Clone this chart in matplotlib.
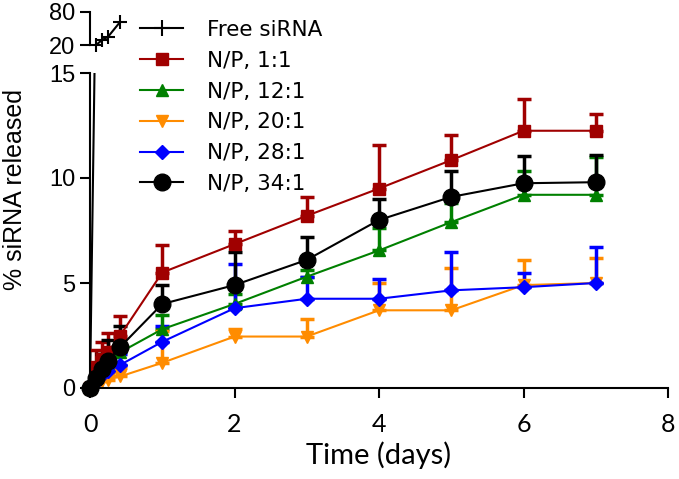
import numpy as np
import matplotlib
matplotlib.use("Agg")
import matplotlib.pyplot as plt

plt.rcParams["font.family"] = ["Liberation Sans", "DejaVu Sans"]

# time points (days)
t = [0, 0.083, 0.167, 0.25, 0.417, 1, 2, 3, 4, 5, 6, 7]

# free siRNA (upper panel, 20-80 %)
free_t = [0, 0.083, 0.167, 0.25, 0.417]
free_v = [0, 20, 29, 35, 62]

# N/P ratios: mean and upper error
np1 = [0, 1.0, 1.4, 1.7, 2.5, 5.5, 6.85, 8.2, 9.5, 10.85, 12.25, 12.25]
np1_err = [0, 0.8, 0.8, 0.9, 0.95, 1.3, 0.65, 0.9, 2.05, 1.2, 1.5, 0.8]
np12 = [0, 0.5, 0.9, 1.2, 1.7, 2.8, 4.0, 5.3, 6.55, 7.9, 9.2, 9.2]
np12_err = [0, 0.3, 0.4, 0.4, 0.4, 0.7, 0.5, 0.3, 1.05, 0.9, 1.15, 1.8]
np20 = [0, 0.2, 0.35, 0.4, 0.55, 1.2, 2.45, 2.45, 3.7, 3.7, 4.9, 5.0]
np20_err = [0, 0.2, 0.3, 0.3, 0.4, 1.5, 0.35, 0.85, 1.3, 2.0, 1.2, 1.2]
np28 = [0, 0.3, 0.6, 0.8, 1.1, 2.2, 3.8, 4.25, 4.25, 4.65, 4.8, 5.0]
np28_err = [0, 0.3, 0.4, 0.5, 0.5, 0.75, 2.1, 1.05, 0.95, 1.85, 0.7, 1.7]
np34 = [0, 0.5, 0.9, 1.3, 1.95, 4.0, 4.9, 6.1, 8.0, 9.1, 9.75, 9.8]
np34_err = [0, 0.5, 0.7, 1.0, 1.0, 0.9, 1.6, 1.1, 1.0, 1.25, 1.3, 1.3]

W, H = 679, 479
fig = plt.figure(figsize=(W / 100, H / 100), dpi=100)
ax = fig.add_axes([90 / W, 91 / H, 578 / W, 315 / H])
ax_top = fig.add_axes([90 / W, (H - 45) / H, 578 / W, 33 / H], sharex=ax)

# free siRNA
ax.plot(free_t, free_v, color="black", lw=1.5)
ax_top.plot(free_t[1:], free_v[1:], color="black", lw=1.5, marker="+",
            ms=10, mew=1.5, clip_on=False)
free_handle = plt.Line2D([], [], color="black", lw=1.5, marker="+", ms=12, mew=1.5)

series = [
    ("N/P, 1:1", np1, np1_err, "#A00000", "s", 8),
    ("N/P, 12:1", np12, np12_err, "#008000", "^", 8),
    ("N/P, 20:1", np20, np20_err, "#FF8C00", "v", 8),
    ("N/P, 28:1", np28, np28_err, "#0000FF", "D", 7),
    ("N/P, 34:1", np34, np34_err, "black", "o", 12),
]

handles = [free_handle]
labels = ["Free siRNA"]
for label, v, err, c, m, ms in series:
    ax.errorbar(t, v, yerr=[np.zeros(len(err)), err], color=c, lw=1.5,
                marker=m, ms=ms, elinewidth=2.5, capsize=5, capthick=2.5,
                clip_on=False)
    handles.append(plt.Line2D([], [], color=c, lw=1.5, marker=m, ms=ms))
    labels.append(label)

ax.set_xlim(0, 8)
ax.set_ylim(0, 15)
ax.set_xticks([0, 2, 4, 6, 8])
ax.set_yticks([0, 5, 10, 15])
ax.spines["top"].set_visible(False)
ax.spines["right"].set_visible(False)
for s in ax.spines.values():
    s.set_linewidth(1.5)
ax.tick_params(labelsize=17, width=1.5, length=7)
ax.tick_params(axis="x", pad=11)
for lbl in ax.get_xticklabels():
    lbl.set_family(["Lato", "DejaVu Sans"])
    lbl.set_fontsize(18)
ax.set_xlabel("Time (days)", fontsize=21, family=["Lato", "DejaVu Sans"], labelpad=4)
fig.text(15 / W, 1 - 189 / H, "% siRNA released", fontsize=18, rotation=90,
         ha="center", va="center")

ax_top.set_ylim(20, 80)
ax_top.set_yticks([20, 80])
for side in ["top", "right", "bottom"]:
    ax_top.spines[side].set_visible(False)
ax_top.spines["left"].set_linewidth(1.5)
ax_top.tick_params(axis="x", bottom=False, labelbottom=False)
ax_top.tick_params(axis="y", labelsize=17, width=1.5, length=7)
ax_top.patch.set_visible(False)

fig.legend(handles, labels, loc="upper left", bbox_to_anchor=(140 / W, 1 - 20 / H),
           frameon=False, prop={"family": "DejaVu Sans", "size": 15.5},
           handlelength=2.0, handletextpad=1.1,
           labelspacing=0.5, borderpad=0, borderaxespad=0, numpoints=1)

fig.savefig("out.png", dpi=100)
